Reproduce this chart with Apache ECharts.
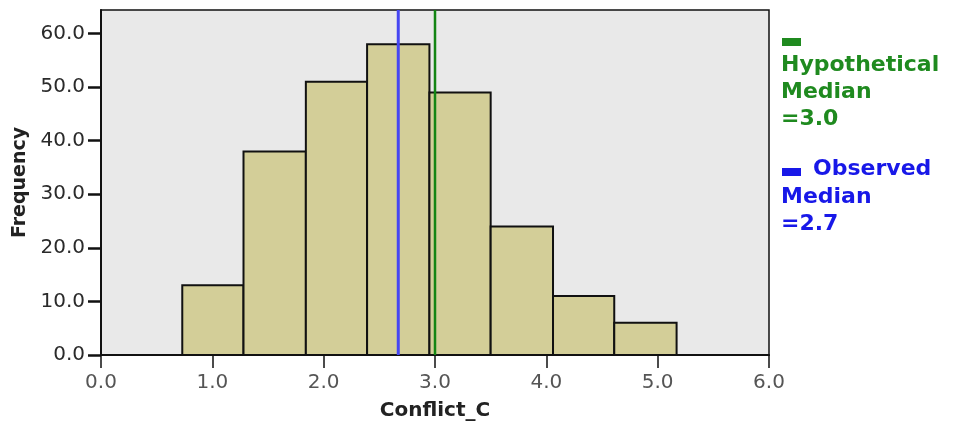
<!DOCTYPE html>
<html>
<head>
<meta charset="utf-8">
<script src="https://cdn.jsdelivr.net/npm/echarts@6/dist/echarts.min.js"></script>
<style>html,body{margin:0;padding:0;background:#fff}#c{width:954px;height:427px}</style>
</head>
<body>
<div id="c"></div>
<script>
// Histogram bin edges (Conflict_C) and frequencies
const binEdges = [0.73, 1.28, 1.84, 2.39, 2.95, 3.50, 4.06, 4.61, 5.17];
const counts = [13, 38, 51, 58, 49, 24, 11, 6];
// Reference lines
const hypotheticalMedian = 3.0;
const observedMedian = 2.67;
const hypotheticalLabel = ['Hypothetical', 'Median', '=3.0'];
const observedLabel = ['Observed', 'Median', '=2.7'];
// Axis ticks
const yTicks = [0, 10, 20, 30, 40, 50, 60];
const xTicks = [0, 1, 2, 3, 4, 5, 6];
const yMax = 64.4;

const binData = counts.map((c, i) => [binEdges[i], binEdges[i + 1], c]);

const chart = echarts.init(document.getElementById('c'), null, {renderer: 'canvas'});
const GREEN = '#1f8a1f', BLUE = '#1818e8';
const font = 'DejaVu Sans';

chart.setOption({
  animation: false,
  grid: {left: 101, right: 185, top: 10, bottom: 72, show: true, backgroundColor: '#e9e9e9', borderColor: '#111', borderWidth: 1.5},
  xAxis: {
    type: 'value', min: 0, max: 6, interval: 1,
    name: 'Conflict_C', nameLocation: 'middle', nameGap: 46,
    nameTextStyle: {fontFamily: font, fontWeight: 'bold', fontSize: 20, color: '#222'},
    axisLine: {show: true, onZero: false, lineStyle: {color: '#111', width: 2}},
    axisTick: {show: true, length: 13, customValues: xTicks, lineStyle: {color: '#111', width: 1.5}},
    axisLabel: {fontFamily: font, fontSize: 20, color: '#555', margin: 18, customValues: xTicks, formatter: v => v.toFixed(1)},
    splitLine: {show: false}
  },
  yAxis: {
    type: 'value', min: 0, max: yMax,
    name: 'Frequency', nameLocation: 'middle', nameGap: 66,
    nameTextStyle: {fontFamily: font, fontWeight: 'bold', fontSize: 19, color: '#222'},
    axisLine: {show: true, lineStyle: {color: '#111', width: 2}},
    axisTick: {show: true, length: 13, customValues: yTicks, lineStyle: {color: '#111', width: 2.5}},
    axisLabel: {fontFamily: font, fontSize: 20, color: '#2a2a2a', margin: 16, customValues: yTicks, formatter: v => v.toFixed(1)},
    splitLine: {show: false}
  },
  series: [
    {
      type: 'custom',
      data: binData,
      encode: {x: [0, 1], y: 2},
      renderItem: function (params, api) {
        const p0 = api.coord([api.value(0), api.value(2)]);
        const p1 = api.coord([api.value(1), 0]);
        return {
          type: 'rect',
          shape: {x: p0[0], y: p0[1], width: p1[0] - p0[0], height: p1[1] - p0[1]},
          style: {fill: '#d3ce98', stroke: '#111', lineWidth: 2}
        };
      },
      z: 2
    },
    {
      type: 'line', data: [[observedMedian, 0], [observedMedian, yMax]],
      symbol: 'none', lineStyle: {color: '#4646f2', width: 3}, z: 5
    },
    {
      type: 'line', data: [[hypotheticalMedian, 0], [hypotheticalMedian, yMax]],
      symbol: 'none', lineStyle: {color: '#138513', width: 2.5}, z: 5
    }
  ],
  graphic: [
    {type: 'rect', left: 782, top: 38, shape: {width: 19, height: 8}, style: {fill: GREEN}},
    {type: 'text', left: 781, top: 52, style: {text: hypotheticalLabel.join('\n'), fill: GREEN, font: 'bold 22px "DejaVu Sans"', lineHeight: 27}},
    {type: 'rect', left: 782, top: 168, shape: {width: 19, height: 8}, style: {fill: BLUE}},
    {type: 'text', left: 813, top: 158, style: {text: observedLabel[0], fill: BLUE, font: 'bold 22px "DejaVu Sans"'}},
    {type: 'text', left: 781, top: 184, style: {text: observedLabel.slice(1).join('\n'), fill: BLUE, font: 'bold 22px "DejaVu Sans"', lineHeight: 27}}
  ]
});
</script>
</body>
</html>
